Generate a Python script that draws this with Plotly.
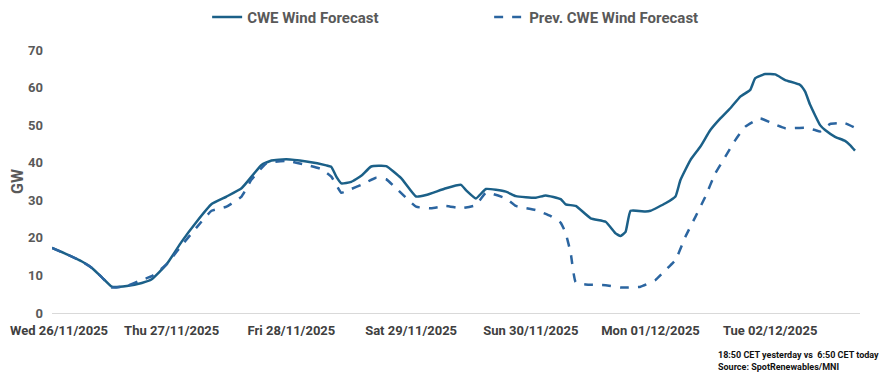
import pandas as pd
import plotly.graph_objects as go

# hours after Wed 26/11/2025 00:00 and GW values
cur_hours = [0, 3, 6, 8, 10, 12, 15, 18, 20, 23, 26, 29, 32, 35, 38, 40, 42, 44, 47, 51, 55, 56, 57, 58, 60, 62, 64, 67, 70, 73, 75, 79, 82, 83, 85, 87, 91, 93, 97, 99, 102, 103, 105, 108, 111, 113, 114, 115, 116, 119, 120, 123, 125, 126, 128, 130, 132, 134, 136, 138, 140, 141, 143, 145, 147, 150, 151, 152, 154, 155, 157, 159, 160, 161]
cur_vals = [17.3, 15.6, 13.7, 12.0, 9.5, 7.0, 7.2, 8.0, 9.0, 13.0, 19.0, 24.3, 29.0, 31.0, 33.2, 36.3, 39.4, 40.6, 40.9, 40.3, 39.3, 38.9, 36.3, 34.5, 34.9, 36.5, 39.0, 39.1, 35.9, 31.0, 31.4, 33.2, 34.1, 32.7, 30.5, 33.0, 32.3, 31.1, 30.7, 31.3, 30.3, 28.9, 28.5, 25.2, 24.3, 21.2, 20.5, 21.6, 27.2, 27.0, 27.2, 29.2, 31.0, 35.4, 40.7, 44.3, 48.7, 51.8, 54.5, 57.6, 59.4, 62.5, 63.6, 63.5, 62.0, 60.7, 58.9, 55.4, 50.0, 48.7, 46.9, 45.8, 44.7, 43.2]

prev_hours = [0, 3, 6, 8, 10, 12, 15, 18, 20, 23, 26, 29, 32, 35, 38, 40, 43, 47, 51, 54, 56, 57, 58, 60, 62, 65, 67, 69, 73, 76, 79, 82, 85, 87, 91, 93, 97, 100, 102, 103, 104, 105, 107, 111, 114, 118, 121, 123, 125, 127, 129, 131, 133, 135, 137, 139, 142, 144, 147, 151, 153, 154, 156, 159, 161]
prev_vals = [17.3, 15.6, 13.7, 12.0, 9.5, 6.8, 7.2, 8.8, 9.8, 13.0, 18.0, 22.8, 27.2, 28.3, 31.0, 35.5, 39.8, 40.5, 39.4, 38.3, 36.3, 34.1, 32.0, 33.0, 34.1, 36.0, 35.6, 33.2, 28.3, 27.9, 28.5, 27.9, 28.7, 32.0, 30.5, 28.5, 27.4, 25.8, 24.0, 21.2, 15.9, 8.2, 7.6, 7.4, 6.8, 7.0, 8.8, 11.4, 14.1, 20.3, 25.6, 31.0, 37.2, 41.6, 46.0, 49.6, 51.8, 50.7, 49.2, 49.3, 48.7, 48.3, 50.3, 50.5, 49.3]

day_ticks = ["2025-11-26", "2025-11-27", "2025-11-28", "2025-11-29", "2025-11-30", "2025-12-01", "2025-12-02"]
y_ticks = [0, 10, 20, 30, 40, 50, 60, 70]

start = pd.Timestamp("2025-11-26 00:00")
cur_x = [start + pd.Timedelta(hours=h) for h in cur_hours]
prev_x = [start + pd.Timedelta(hours=h) for h in prev_hours]

FONT = "Roboto, Liberation Sans, sans-serif"
GREY = "#595959"

fig = go.Figure()
fig.add_trace(go.Scatter(x=cur_x, y=cur_vals, mode="lines", name="CWE Wind Forecast",
                         line=dict(color="#1b6088", width=2.5, shape="spline", smoothing=0.4)))
fig.add_trace(go.Scatter(x=prev_x, y=prev_vals, mode="lines", name="Prev. CWE Wind Forecast",
                         line=dict(color="#2b65a0", width=2.5, dash="dash", shape="spline", smoothing=0.4)))

tick_text = [pd.Timestamp(d).strftime("%a %d/%m/%Y") for d in day_ticks]
tick_text_shown = [""] + tick_text[1:]

fig.update_layout(
    width=887, height=371,
    margin=dict(l=44, r=35, t=42, b=66, autoexpand=False),
    paper_bgcolor="white", plot_bgcolor="white",
    font=dict(family=FONT, color=GREY),
    showlegend=True,
    legend=dict(orientation="h", x=0.192, y=1.125, xanchor="left", yanchor="middle",
                entrywidth=237, entrywidthmode="pixels",
                font=dict(size=15, color=GREY, family=FONT, weight="bold")),
    xaxis=dict(
        type="date",
        range=[start, start + pd.Timedelta(hours=162)],
        tickvals=day_ticks, ticktext=tick_text_shown,
        showgrid=False, zeroline=False,
        showline=True, linecolor="#d9d9d9", linewidth=1,
        ticks="", ticklabelstandoff=5,
        tickfont=dict(size=13, color="#404040", family=FONT, weight="bold"),
    ),
    yaxis=dict(
        range=[0, 70], tickvals=y_ticks,
        showgrid=False, zeroline=False, showline=False, ticks="",
        tickfont=dict(size=13, color=GREY, family=FONT, weight="bold"),
        ticklabelstandoff=8,
        title=dict(text="GW", font=dict(size=16, color=GREY, family=FONT, weight="bold"), standoff=12),
    ),
)

fig.add_annotation(x=0, xref="paper", xanchor="left", xshift=-44,
                   y=0, yref="paper", yanchor="top", yshift=-8,
                   text=tick_text[0], showarrow=False,
                   font=dict(size=13, color="#404040", family=FONT, weight="bold"))
fig.add_annotation(x=1, xref="paper", xanchor="left", xshift=-144,
                   y=0, yref="paper", yanchor="top", yshift=-35, align="left",
                   text="18:50 CET yesterday vs  6:50 CET today<br>Source: SpotRenewables/MNI",
                   showarrow=False,
                   font=dict(size=9, color="#111111", family=FONT, weight="bold"))

fig.write_html("out.html")
